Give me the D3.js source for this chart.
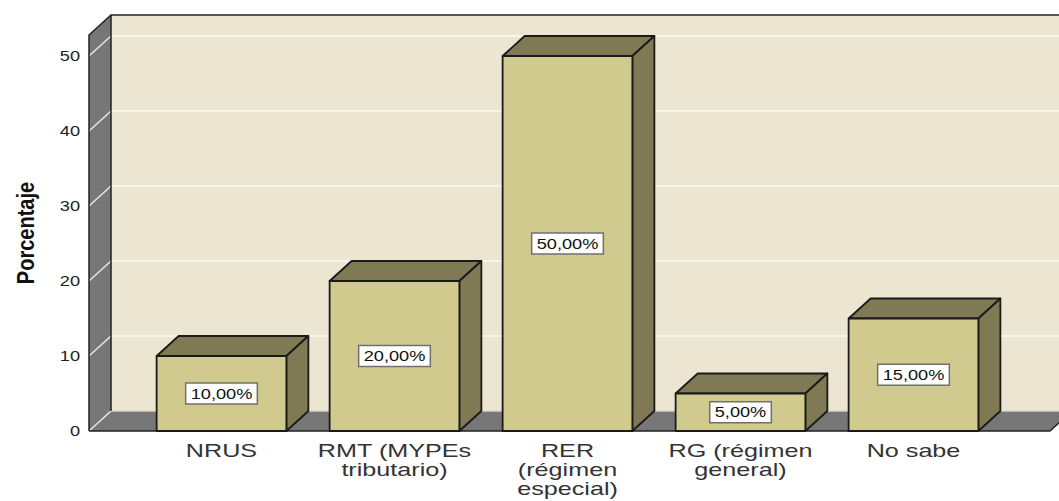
<!DOCTYPE html>
<html>
<head>
<meta charset="utf-8">
<script src="https://cdn.jsdelivr.net/npm/d3@7"></script>
<style>
  html, body { margin: 0; padding: 0; background: #fff; }
  svg text { font-family: "Liberation Sans", Arial, sans-serif; }
</style>
</head>
<body>
<svg id="chart" width="1059" height="501"></svg>
<script>
// data
const categories = ['NRUS', 'RMT (MYPEs tributario)', 'RER (régimen especial)', 'RG (régimen general)', 'No sabe'];
const categoryLines = [['NRUS'], ['RMT (MYPEs', 'tributario)'], ['RER', '(régimen', 'especial)'], ['RG (régimen', 'general)'], ['No sabe']];
const percentages = [10, 20, 50, 5, 15];
const valueLabels = ['10,00%', '20,00%', '50,00%', '5,00%', '15,00%'];
const yTicks = [0, 10, 20, 30, 40, 50];
const yTitle = 'Porcentaje';

const svg = d3.select('#chart');
const width = 1059;

// 3D depth offset
const DX = 22, DY = 20;
// the source picture is stretched sideways, text too
const SX = 1.3;

const x = d3.scaleBand()
  .domain(categories)
  .range([135, 1000])
  .paddingInner(0.25)
  .paddingOuter(0.125);

const y = d3.scaleLinear()
  .domain([0, 50])
  .range([431, 56]);

const axisX = 89;
const floorRight = 1050;
const wallTop = y(52.8);
const line = d3.line();

// back wall
svg.append('rect')
  .attr('x', axisX + DX).attr('y', wallTop - DY)
  .attr('width', width).attr('height', y(0) - wallTop)
  .attr('fill', '#ebe5d1');

// gridlines on back wall
const grid = svg.append('g');
yTicks.forEach(t => {
  grid.append('path')
    .attr('d', line([[axisX + DX, y(t) - DY], [width + 40, y(t) - DY]]))
    .attr('stroke', '#f7f4ec').attr('stroke-width', 2).attr('fill', 'none');
});

// side wall
svg.append('path')
  .attr('d', line([[axisX, y(0)], [axisX, wallTop], [axisX + DX, wallTop - DY], [axisX + DX, y(0) - DY]]) + 'Z')
  .attr('fill', '#777777');

// floor
svg.append('path')
  .attr('d', line([[axisX, y(0)], [axisX + DX, y(0) - DY], [floorRight + DX, y(0) - DY], [floorRight, y(0)]]) + 'Z')
  .attr('fill', '#777777');

// light line where floor meets wall
svg.append('path')
  .attr('d', line([[axisX + DX, y(0) - DY], [width + 40, y(0) - DY]]))
  .attr('stroke', '#d8d3c3').attr('stroke-width', 1.5).attr('fill', 'none');

// gridlines crossing the side wall
yTicks.forEach(t => {
  svg.append('path')
    .attr('d', line([[axisX, y(t)], [axisX + DX, y(t) - DY]]))
    .attr('stroke', '#e8e8e8').attr('stroke-width', 1.5).attr('fill', 'none');
});

// wall outlines
const outline = svg.append('g').attr('stroke', '#222').attr('stroke-width', 1.5).attr('fill', 'none');
outline.append('path').attr('d', line([[axisX, y(0)], [axisX, wallTop], [axisX + DX, wallTop - DY], [width + 40, wallTop - DY]]));
outline.append('path').attr('d', line([[axisX + DX, wallTop - DY], [axisX + DX, y(0) - DY]]));
outline.append('path').attr('d', line([[axisX, y(0)], [floorRight, y(0)], [floorRight + DX, y(0) - DY]]));

// bars
const bars = svg.append('g')
  .selectAll('g')
  .data(categories)
  .enter().append('g')
  .attr('stroke', '#1a1a1a')
  .attr('stroke-width', 1.8)
  .attr('stroke-linejoin', 'round');

bars.each(function(c, i) {
  const g = d3.select(this);
  const x0 = x(c), x1 = x(c) + x.bandwidth();
  const yt = y(percentages[i]), yb = y(0);
  // top face
  g.append('path')
    .attr('d', line([[x0, yt], [x0 + DX, yt - DY], [x1 + DX, yt - DY], [x1, yt]]) + 'Z')
    .attr('fill', '#7f7a53');
  // side face
  g.append('path')
    .attr('d', line([[x1, yt], [x1 + DX, yt - DY], [x1 + DX, yb - DY], [x1, yb]]) + 'Z')
    .attr('fill', '#7f7a53');
  // front face
  g.append('rect')
    .attr('x', x0).attr('y', yt)
    .attr('width', x1 - x0).attr('height', yb - yt)
    .attr('fill', '#d0ca8e');
});

// value labels in white boxes
categories.forEach((c, i) => {
  const cx = x(c) + x.bandwidth() / 2;
  const cy = (y(percentages[i]) + y(0)) / 2;
  const g = svg.append('g').attr('transform', `translate(${cx},${cy})`);
  const box = g.append('rect');
  const txt = g.append('text')
    .attr('transform', `scale(${SX},1)`)
    .attr('text-anchor', 'middle')
    .attr('dy', '0.36em')
    .attr('font-size', 14)
    .attr('fill', '#111')
    .text(valueLabels[i]);
  const w = txt.node().getComputedTextLength() * SX + 10;
  box.attr('x', -w / 2).attr('y', -10.5)
    .attr('width', w).attr('height', 21)
    .attr('fill', '#fff')
    .attr('stroke', '#707070').attr('stroke-width', 1.5);
});

// y tick labels
yTicks.forEach(t => {
  svg.append('text')
    .attr('transform', `translate(80,${y(t)}) scale(${SX},1)`)
    .attr('text-anchor', 'end')
    .attr('dy', '0.36em')
    .attr('font-size', 14)
    .attr('fill', '#222')
    .text(t);
});

// y title
svg.append('text')
  .attr('transform', `translate(34,233) scale(1.15,1) rotate(-90)`)
  .attr('text-anchor', 'middle')
  .attr('font-size', 20)
  .attr('font-weight', 'bold')
  .attr('fill', '#111')
  .text(yTitle);

// category labels, one text per line
categories.forEach((c, i) => {
  const cx = x(c) + x.bandwidth() / 2;
  categoryLines[i].forEach((ln, j) => {
    svg.append('text')
      .attr('transform', `translate(${cx},${457 + j * 19}) scale(1.36,1)`)
      .attr('text-anchor', 'middle')
      .attr('font-size', 18.5)
      .attr('fill', '#333')
      .text(ln);
  });
});
</script>
</body>
</html>
